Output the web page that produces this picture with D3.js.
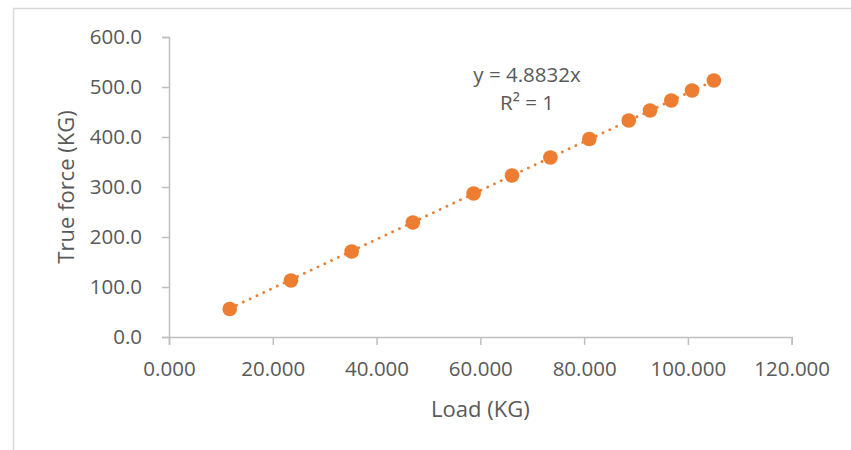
<!DOCTYPE html>
<html>
<head>
<meta charset="utf-8">
<script src="https://cdn.jsdelivr.net/npm/d3@7"></script>
<style>
  body { margin: 0; background: #fff; }
  svg text { font-family: "Open Sans", sans-serif; fill: #595959; }
</style>
</head>
<body>
<script>
"use strict";

// values
var loads = [11.7, 23.5, 35.2, 47.0, 58.7, 66.1, 73.5, 81.0, 88.6, 92.7, 96.8, 100.8, 105.0];
var forces = [56, 113, 171, 229, 287, 323, 359, 396, 433, 453, 473, 493, 513];
var xTicks = [0, 20, 40, 60, 80, 100, 120];
var yTicks = [0, 100, 200, 300, 400, 500, 600];
var slope = 4.8832;
var trendLabels = ["y = 4.8832x", "R\u00b2 = 1"];

var width = 851,
    height = 450;

var margin = {top: 37, left: 169, right: 60, bottom: 113};

var orange = "#ED7D31",
    axisGrey = "#bfbfbf";

var svg = d3.select("body").append("svg")
    .attr("width", width)
    .attr("height", height);

// chart area border (only left/top edges are in frame)
svg.append("rect")
    .attr("x", 13.5)
    .attr("y", 8.5)
    .attr("width", 1000)
    .attr("height", 1000)
    .attr("fill", "#fff")
    .attr("stroke", "#d9d9d9")
    .attr("stroke-width", 1.5);

var x = d3.scaleLinear()
    .domain([0, 120])
    .range([margin.left, 791.7]);

var y = d3.scaleLinear()
    .domain([0, 600])
    .range([height - margin.bottom, margin.top]);

var xAxis = svg.append("g")
    .attr("transform", "translate(0," + y(0) + ")")
    .call(d3.axisBottom(x).tickValues(xTicks).tickSize(8).tickPadding(16)
      .tickFormat(d3.format(".3f")));

var yAxis = svg.append("g")
    .attr("transform", "translate(" + x(0) + ",0)")
    .call(d3.axisLeft(y).tickValues(yTicks).tickSize(7).tickPadding(20)
      .tickFormat(d3.format(".1f")));

[xAxis, yAxis].forEach(function(g) {
  g.select(".domain").attr("stroke", axisGrey).attr("stroke-width", 1.5);
  g.selectAll(".tick line").attr("stroke", axisGrey).attr("stroke-width", 1.5);
  g.selectAll(".tick text")
      .attr("fill", "#595959")
      .style("font-size", "20.5px");
});

// axis titles
svg.append("text")
    .attr("x", (x(0) + x(120)) / 2)
    .attr("y", 417)
    .attr("text-anchor", "middle")
    .style("font-size", "22px")
    .text("Load (KG)");

svg.append("text")
    .attr("transform", "translate(74," + (y(0) + y(600)) / 2 + ") rotate(-90)")
    .attr("text-anchor", "middle")
    .style("font-size", "22px")
    .text("True force (KG)");

// linear trendline through origin, drawn across the data range
var xExtent = d3.extent(loads);
var line = d3.line()
    .x(function(d) { return x(d); })
    .y(function(d) { return y(slope * d); });

svg.append("path")
    .datum(xExtent)
    .attr("d", line)
    .attr("fill", "none")
    .attr("stroke", orange)
    .attr("stroke-width", 2.75)
    .attr("stroke-linecap", "round")
    .attr("stroke-dasharray", "0.1 7.4");

svg.selectAll("circle.pt")
    .data(loads)
  .enter().append("circle")
    .attr("class", "pt")
    .attr("cx", function(d) { return x(d); })
    .attr("cy", function(d, i) { return y(forces[i]); })
    .attr("r", 7.3)
    .attr("fill", orange);

svg.append("g")
    .selectAll("text")
    .data(trendLabels)
  .enter().append("text")
    .attr("x", 527)
    .attr("y", function(d, i) { return 82 + i * 28; })
    .attr("text-anchor", "middle")
    .style("font-size", "20.5px")
    .text(function(d) { return d; });
</script>
</body>
</html>
